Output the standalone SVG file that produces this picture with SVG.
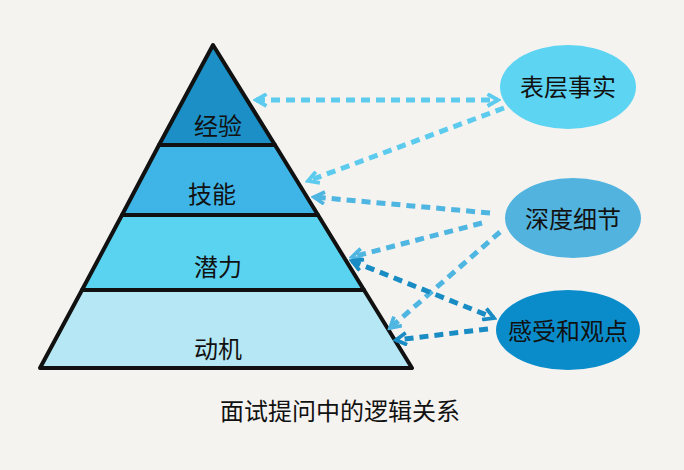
<svg xmlns="http://www.w3.org/2000/svg" width="684" height="470" viewBox="0 0 684 470">
<defs>
<style>
text{font-family:"Noto Sans CJK SC",sans-serif;fill:#111;text-anchor:middle}
.t{font-size:24px}
.c{fill:none;stroke-width:5;stroke-dasharray:9 6}
.l{stroke:#5ccbee}
.m{stroke:#4fb6e2}
.d{stroke:#1a8cc4}
</style>
<marker id="al" viewBox="0 0 10 10" refX="8" refY="5" markerWidth="3" markerHeight="3" orient="auto-start-reverse"><path d="M1,1L8,5L1,9" fill="none" stroke="#5ccbee" stroke-width="2.5"/></marker>
<marker id="am" viewBox="0 0 10 10" refX="8" refY="5" markerWidth="3" markerHeight="3" orient="auto-start-reverse"><path d="M1,1L8,5L1,9" fill="none" stroke="#4fb6e2" stroke-width="2.5"/></marker>
<marker id="ad" viewBox="0 0 10 10" refX="8" refY="5" markerWidth="3" markerHeight="3" orient="auto-start-reverse"><path d="M1,1L8,5L1,9" fill="none" stroke="#1a8cc4" stroke-width="2.5"/></marker>
</defs>
<rect width="684" height="470" fill="#f5f3f0"/>
<g id="pyramid" stroke="#111" stroke-width="4" stroke-linejoin="round">
<polygon points="40,368 82,290 364,290 412,368" fill="#b6e7f4"/>
<polygon points="82,290 122,215 318,215 364,290" fill="#5ad3f0"/>
<polygon points="122,215 159,145 275,145 318,215" fill="#3fb4e6"/>
<polygon points="159,145 213,45 275,145" fill="#1b8fc6"/>
</g>
<g id="labels">
<text class="t" x="218" y="135">经验</text>
<text class="t" x="212" y="203">技能</text>
<text class="t" x="218" y="276">潜力</text>
<text class="t" x="218" y="358">动机</text>
</g>
<g id="n1"><ellipse cx="568" cy="87" rx="68" ry="42" fill="#5dd4f2"/><text class="t" x="568" y="96">表层事实</text></g>
<g id="n2"><ellipse cx="573" cy="218" rx="68" ry="40" fill="#52b4de"/><text class="t" x="573" y="228">深度细节</text></g>
<g id="n3"><ellipse cx="568" cy="330" rx="72" ry="40" fill="#0a8ccb"/><text class="t" x="568" y="340">感受和观点</text></g>
<g id="connectors">
<line class="c l" x1="256" y1="100" x2="498" y2="100" marker-start="url(#al)" marker-end="url(#al)"/>
<line class="c l" x1="504" y1="108" x2="308" y2="181" marker-end="url(#al)"/>
<line class="c m" x1="490" y1="213" x2="314" y2="197" marker-end="url(#am)"/>
<line class="c m" x1="482" y1="223" x2="352" y2="257" marker-end="url(#am)"/>
<line class="c m" x1="500" y1="232" x2="390" y2="328" marker-end="url(#am)"/>
<line class="c d" x1="352" y1="261" x2="494" y2="318" marker-start="url(#ad)" marker-end="url(#ad)"/>
<line class="c d" x1="488" y1="329" x2="396" y2="340" marker-end="url(#ad)"/>
</g>
<text x="340" y="420" font-size="24">面试提问中的逻辑关系</text>
</svg>
